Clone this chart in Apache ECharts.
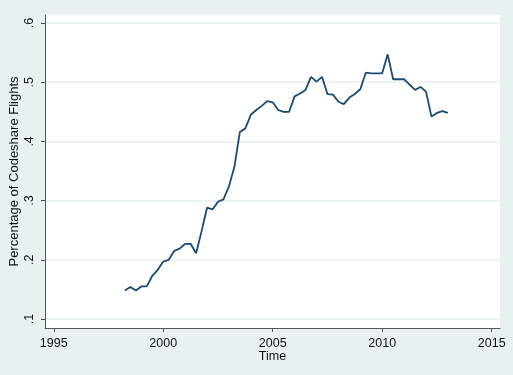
<!DOCTYPE html>
<html>
<head>
<meta charset="utf-8">
<script src="https://cdn.jsdelivr.net/npm/echarts@6/dist/echarts.min.js"></script>
<style>
html,body{margin:0;padding:0;background:#e9f0f2;}
#chart{width:513px;height:375px;}
</style>
</head>
<body>
<div id="chart"></div>
<script>
// Quarterly time points (decimal years)
var time = [
  1998.25, 1998.50, 1998.75, 1999.00, 1999.25, 1999.50, 1999.75, 2000.00,
  2000.25, 2000.50, 2000.75, 2001.00, 2001.25, 2001.50, 2001.75, 2002.00,
  2002.25, 2002.50, 2002.75, 2003.00, 2003.25, 2003.50, 2003.75, 2004.00,
  2004.25, 2004.50, 2004.75, 2005.00, 2005.25, 2005.50, 2005.75, 2006.00,
  2006.25, 2006.50, 2006.75, 2007.00, 2007.25, 2007.50, 2007.75, 2008.00,
  2008.25, 2008.50, 2008.75, 2009.00, 2009.25, 2009.50, 2009.75, 2010.00,
  2010.25, 2010.50, 2010.75, 2011.00, 2011.25, 2011.50, 2011.75, 2012.00,
  2012.25, 2012.50, 2012.75, 2013.00
];
// Share of codeshare flights
var share = [
  0.148, 0.154, 0.148, 0.155, 0.155, 0.173, 0.183, 0.197,
  0.200, 0.215, 0.219, 0.227, 0.227, 0.211, 0.248, 0.288,
  0.285, 0.298, 0.302, 0.324, 0.357, 0.416, 0.422, 0.445,
  0.453, 0.460, 0.468, 0.466, 0.453, 0.450, 0.450, 0.476,
  0.481, 0.487, 0.509, 0.501, 0.509, 0.480, 0.479, 0.467,
  0.463, 0.474, 0.480, 0.488, 0.516, 0.515, 0.515, 0.515,
  0.547, 0.505, 0.505, 0.505, 0.496, 0.487, 0.492, 0.484,
  0.442, 0.448, 0.451, 0.448
];
var xTicks = [1995, 2000, 2005, 2010, 2015];
var yTicks = [0.1, 0.2, 0.3, 0.4, 0.5, 0.6];
var yTickLabels = ['.1', '.2', '.3', '.4', '.5', '.6'];
var xTitle = 'Time';
var yTitle = 'Percentage of Codeshare Flights';

var points = time.map(function (t, i) { return [t, share[i]]; });
var font = 'Liberation Sans, Arial, sans-serif';

var chart = echarts.init(document.getElementById('chart'), null, {renderer: 'canvas'});
chart.setOption({
  backgroundColor: '#e9f0f2',
  animation: false,
  grid: {
    left: 45, right: 13, top: 15, bottom: 47,
    containLabel: false,
    outerBoundsMode: 'none',
    show: true, backgroundColor: '#ffffff', borderWidth: 0
  },
  xAxis: {
    type: 'value',
    min: 1994.6, max: 2015.38,
    name: xTitle,
    nameLocation: 'middle',
    nameGap: 22,
    nameMoveOverlap: false,
    nameTextStyle: {fontFamily: font, fontSize: 12.5, color: '#111'},
    axisLine: {show: true, onZero: false, lineStyle: {color: '#555', width: 1}},
    axisTick: {show: true, length: 4, customValues: xTicks, lineStyle: {color: '#555'}},
    axisLabel: {customValues: xTicks, fontFamily: font, fontSize: 12.5, color: '#111', margin: 9,
      formatter: function (v) { return String(v); }},
    splitLine: {show: false}
  },
  yAxis: {
    type: 'value',
    min: 0.0848, max: 0.6135,
    name: yTitle,
    nameLocation: 'middle',
    nameGap: 24,
    nameRotate: 90,
    nameMoveOverlap: false,
    nameTextStyle: {fontFamily: font, fontSize: 13, color: '#111'},
    axisLine: {show: true, onZero: false, lineStyle: {color: '#555', width: 1}},
    axisTick: {show: true, length: 4, customValues: yTicks, lineStyle: {color: '#555'}},
    axisLabel: {customValues: yTicks, rotate: 90, fontFamily: font, fontSize: 12.5, color: '#111', margin: 9,
      formatter: function (v) {
        var i = yTicks.findIndex(function (t) { return Math.abs(t - v) < 1e-6; });
        return i >= 0 ? yTickLabels[i] : '';
      }},
    splitLine: {show: true, lineStyle: {color: '#e8eff0', width: 1.5}}
  },
  series: [{
    type: 'line',
    data: points,
    showSymbol: false,
    lineStyle: {color: '#1f4a70', width: 1.8},
    itemStyle: {color: '#1f4a70'}
  }]
});
</script>
</body>
</html>
